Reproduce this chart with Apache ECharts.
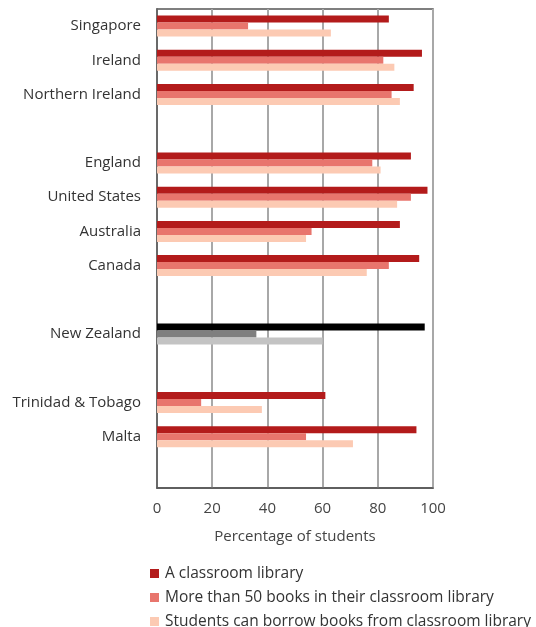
<!DOCTYPE html>
<html>
<head>
<meta charset="utf-8">
<script src="https://cdn.jsdelivr.net/npm/echarts@6/dist/echarts.min.js"></script>
<style>
  html, body { margin: 0; padding: 0; background: #fff; }
  #charts { width: 536px; height: 627px; }
</style>
</head>
<body>
<div id="charts"></div>
<script>
// categories, top to bottom; blank entries are the spacer rows
var countries = ['Singapore', 'Ireland', 'Northern Ireland', ' ', 'England', 'United States', 'Australia', 'Canada', '  ', 'New Zealand', '   ', 'Trinidad & Tobago', 'Malta', '    ']
var seriesNames = ['A classroom library', 'More than 50 books in their classroom library', 'Students can borrow books from classroom library']
var classroomLibrary = [84, 96, 93, null, 92, 98, 88, 95, null, 97, null, 61, 94, null]
var moreThan50Books = [33, 82, 85, null, 78, 92, 56, 84, null, 36, null, 16, 54, null]
var canBorrowBooks = [63, 86, 88, null, 81, 87, 54, 76, null, 60, null, 38, 71, null]
var xTicks = [0, 20, 40, 60, 80, 100]

var redColors = ['#b31b1b', '#e8756d', '#fccab3']
var nzColors = ['#000000', '#7f7f7f', '#c3c3c3']
var highlight = 'New Zealand'

function buildData(values, idx) {
  return values.map(function (v, i) {
    if (countries[i] === highlight) {
      return { value: v, itemStyle: { color: nzColors[idx] } }
    }
    return v
  })
}

var chart = echarts.init(document.getElementById('charts'))
var font = '"Open Sans", "Noto Sans", sans-serif'

var option = {
  animation: false,
  textStyle: { fontFamily: font },
  grid: {
    left: 157,
    right: 103,
    top: 9,
    bottom: 139,
    show: true,
    borderColor: '#555',
    borderWidth: 1.5,
    containLabel: false
  },
  xAxis: {
    type: 'value',
    min: xTicks[0],
    max: xTicks[xTicks.length - 1],
    interval: 20,
    axisLine: { show: true, lineStyle: { color: '#555', width: 1.5 } },
    axisTick: { show: false },
    splitLine: { show: true, lineStyle: { color: '#a8a8a8', width: 2 } },
    axisLabel: { color: '#444', fontSize: 15, margin: 13, fontFamily: font },
    name: 'Percentage of students',
    nameLocation: 'middle',
    nameGap: 41,
    nameTextStyle: { color: '#444', fontSize: 15, fontFamily: font }
  },
  yAxis: {
    type: 'category',
    inverse: true,
    data: countries,
    axisLine: { show: true, lineStyle: { color: '#555', width: 1.5 } },
    axisTick: { show: false },
    splitLine: { show: false },
    axisLabel: {
      color: '#333',
      fontSize: 15,
      margin: 16,
      fontFamily: font,
      formatter: function (v) { return v.trim() }
    }
  },
  legend: {
    orient: 'vertical',
    left: 150,
    top: 563,
    height: 80,
    padding: 0,
    icon: 'rect',
    itemWidth: 9,
    itemHeight: 9,
    itemGap: 3,
    textStyle: { color: '#333', fontSize: 15.5, lineHeight: 21, fontFamily: font, padding: [0, 0, 0, 1] },
    data: seriesNames
  },
  series: [
    {
      name: seriesNames[0],
      type: 'bar',
      barWidth: 7,
      barGap: '0%',
      itemStyle: { color: redColors[0] },
      data: buildData(classroomLibrary, 0)
    },
    {
      name: seriesNames[1],
      type: 'bar',
      barWidth: 7,
      barGap: '0%',
      itemStyle: { color: redColors[1] },
      data: buildData(moreThan50Books, 1)
    },
    {
      name: seriesNames[2],
      type: 'bar',
      barWidth: 7,
      barGap: '0%',
      itemStyle: { color: redColors[2] },
      data: buildData(canBorrowBooks, 2)
    }
  ]
}
chart.setOption(option)
</script>
</body>
</html>
